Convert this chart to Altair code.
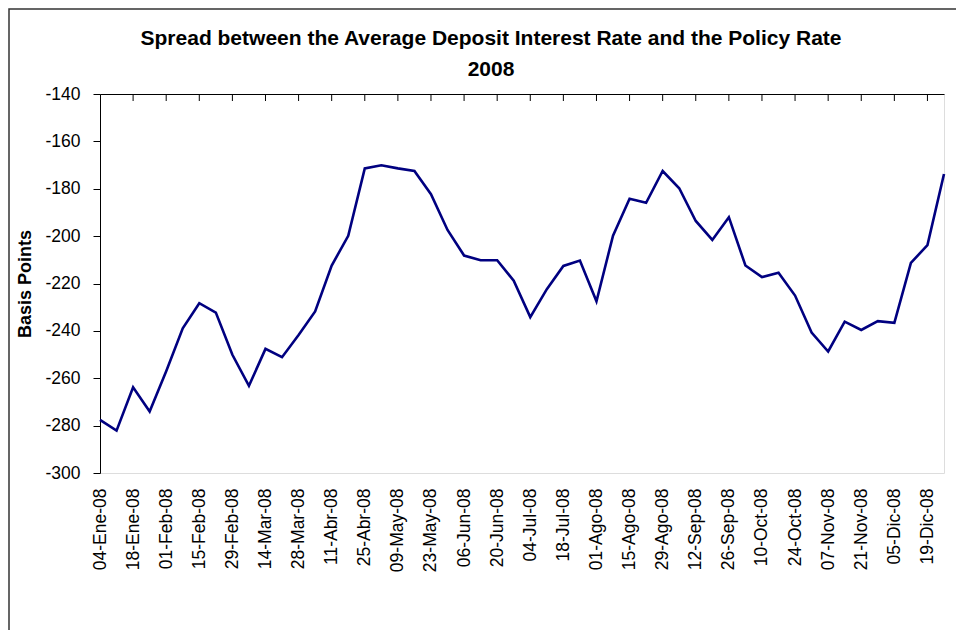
import altair as alt
import pandas as pd

dates = [
    "04-Ene-08", "11-Ene-08", "18-Ene-08", "25-Ene-08",
    "01-Feb-08", "08-Feb-08", "15-Feb-08", "22-Feb-08", "29-Feb-08",
    "07-Mar-08", "14-Mar-08", "21-Mar-08", "28-Mar-08",
    "04-Abr-08", "11-Abr-08", "18-Abr-08", "25-Abr-08",
    "02-May-08", "09-May-08", "16-May-08", "23-May-08", "30-May-08",
    "06-Jun-08", "13-Jun-08", "20-Jun-08", "27-Jun-08",
    "04-Jul-08", "11-Jul-08", "18-Jul-08", "25-Jul-08",
    "01-Ago-08", "08-Ago-08", "15-Ago-08", "22-Ago-08", "29-Ago-08",
    "05-Sep-08", "12-Sep-08", "19-Sep-08", "26-Sep-08",
    "03-Oct-08", "10-Oct-08", "17-Oct-08", "24-Oct-08", "31-Oct-08",
    "07-Nov-08", "14-Nov-08", "21-Nov-08", "28-Nov-08",
    "05-Dic-08", "12-Dic-08", "19-Dic-08", "26-Dic-08",
]

spread = [
    -277.6, -282.1, -263.8, -274.0,
    -257.0, -238.9, -228.3, -232.3, -250.1,
    -263.2, -247.6, -251.1, -241.7,
    -231.8, -212.4, -199.9, -171.4,
    -170.1, -171.4, -172.5, -182.3, -197.4,
    -208.2, -210.2, -210.2, -218.8,
    -234.2, -222.4, -212.6, -210.3,
    -227.5, -199.8, -184.2, -185.9, -172.5,
    -179.8, -193.6, -201.6, -192.0,
    -212.4, -217.3, -215.5, -225.1, -240.7,
    -248.7, -236.1, -239.6, -235.9,
    -236.6, -211.3, -203.8, -173.8,
]

y_ticks = list(range(-300, -139, 20))
idx = list(range(len(dates)))
label_idx = idx[::2]

df = pd.DataFrame({"date": dates, "spread": spread, "idx": idx})

FONT = "Liberation Sans"
x_scale = alt.Scale(domain=[0, len(dates) - 1], nice=False, zero=False)
label_lookup = "[" + ",".join("'" + d + "'" for d in dates) + "][datum.value]"

line = alt.Chart(df).mark_line(color="#000080", strokeWidth=2.6).encode(
    x=alt.X(
        "idx:Q", scale=x_scale,
        axis=alt.Axis(
            orient="bottom", values=label_idx, labelExpr=label_lookup,
            labelAngle=-90, labelFont=FONT, labelFontSize=17.5, labelColor="black",
            ticks=False, domain=False, labelPadding=15, labelOverlap=False,
            labelFlush=False, labelBound=False, title=None, grid=False,
        ),
    ),
    y=alt.Y(
        "spread:Q",
        scale=alt.Scale(domain=[-300, -140], nice=False, zero=False),
        axis=alt.Axis(
            values=y_ticks, labelExpr="'' + datum.value", labelFont=FONT,
            labelFontSize=17.5, labelColor="black", tickColor="black", tickSize=7,
            labelPadding=13, domainColor="black", grid=False, labelFlush=False,
            title="Basis Points", titleFont=FONT, titleFontSize=18,
            titleFontWeight="bold", titleColor="black", titlePadding=10,
        ),
    ),
    tooltip=["date:N", "spread:Q"],
)

ticks_top = alt.Chart(df).transform_filter(
    "datum.idx % 2 == 0 && datum.idx > 0"
).mark_rule(color="black", strokeWidth=1).encode(
    x=alt.X(
        "idx:Q", scale=x_scale,
        axis=alt.Axis(orient="top", labels=False, ticks=False, domain=True,
                      domainColor="black", title=None, grid=False),
    ),
    y=alt.value(0),
    y2=alt.value(7),
)

frame = alt.Chart(pd.DataFrame({"k": [0]})).mark_rect(
    fill=None, stroke="#333333", strokeWidth=1.5
).encode(
    x=alt.value(-91), x2=alt.value(2000), y=alt.value(-85), y2=alt.value(2000)
)

chart = alt.layer(frame, line, ticks_top).properties(
    width=844,
    height=379,
    padding={"left": 92, "top": 86, "right": 12, "bottom": 157},
    autosize=alt.AutoSizeParams(type="none"),
    title=alt.TitleParams(
        text=["Spread between the Average Deposit Interest Rate and the Policy Rate", "2008"],
        font=FONT, fontSize=21, fontWeight="bold", color="black",
        anchor="middle", frame="group", dx=-31, offset=-72, lineHeight=31,
    ),
).configure_view(stroke="#808080", strokeWidth=1).configure(background="white")

chart.save("out.html", embed_options={"renderer": "svg", "actions": False})
